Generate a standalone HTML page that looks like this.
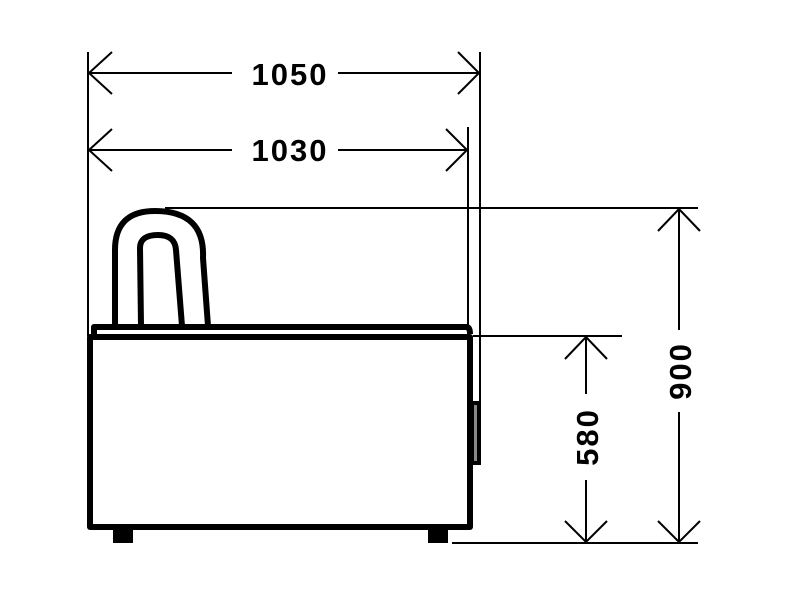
<!DOCTYPE html>
<html><head><meta charset="utf-8"><style>html,body{margin:0;padding:0;background:#fff}svg{display:block}</style></head>
<body>
<svg width="800" height="600" viewBox="0 0 800 600" xmlns="http://www.w3.org/2000/svg">
<g stroke="#000" stroke-width="2" fill="none">
  <line x1="88" y1="52" x2="88" y2="336"/>
  <line x1="480" y1="52" x2="480" y2="402"/>
  <line x1="468" y1="127" x2="468" y2="326"/>
  <line x1="165" y1="208" x2="698" y2="208"/>
  <line x1="473" y1="336" x2="622" y2="336"/>
  <line x1="452" y1="543" x2="698" y2="543"/>
  <line x1="89" y1="73" x2="232" y2="73"/>
  <line x1="338" y1="73" x2="479" y2="73"/>
  <polyline points="112,52 89,73 112,94"/>
  <polyline points="458,52 479,73 458,94"/>
  <line x1="89" y1="150" x2="232" y2="150"/>
  <line x1="338" y1="150" x2="467" y2="150"/>
  <polyline points="112,129 89,150 112,171"/>
  <polyline points="446,129 467,150 446,171"/>
  <line x1="679" y1="209" x2="679" y2="330"/>
  <line x1="679" y1="412" x2="679" y2="542"/>
  <polyline points="658,231 679,209 700,231"/>
  <polyline points="658,521 679,542 700,521"/>
  <line x1="586" y1="337" x2="586" y2="394"/>
  <line x1="586" y1="480" x2="586" y2="542"/>
  <polyline points="565,359 586,337 607,359"/>
  <polyline points="565,521 586,542 607,521"/>
</g>
<g stroke="#000" stroke-width="6" fill="none" stroke-linejoin="round">
  <path d="M115,326 L115,250 Q115,211 155,211 Q205,211 203,258 L208,326"/>
  <path d="M141,326 L140,248 Q140,235 158,235 Q175,235 176,250 L182,326"/>
  <path d="M94,336 L94,327 L466,327 Q470,327 470,334"/>
  <rect x="90" y="337" width="380" height="190"/>
</g>
<rect x="113" y="528" width="20" height="15" fill="#000"/>
<rect x="428" y="528" width="20" height="15" fill="#000"/>
<rect x="472" y="401" width="9" height="64" fill="#000"/>
<rect x="474" y="405" width="3" height="56" fill="#888"/>
<g font-family="Liberation Sans, sans-serif" font-weight="bold" font-size="31" letter-spacing="2" fill="#000" text-anchor="middle">
  <text x="290" y="85">1050</text>
  <text x="290" y="161">1030</text>
  <text transform="translate(691,371) rotate(-90)">900</text>
  <text transform="translate(598,437) rotate(-90)">580</text>
</g>
</svg>
</body></html>
